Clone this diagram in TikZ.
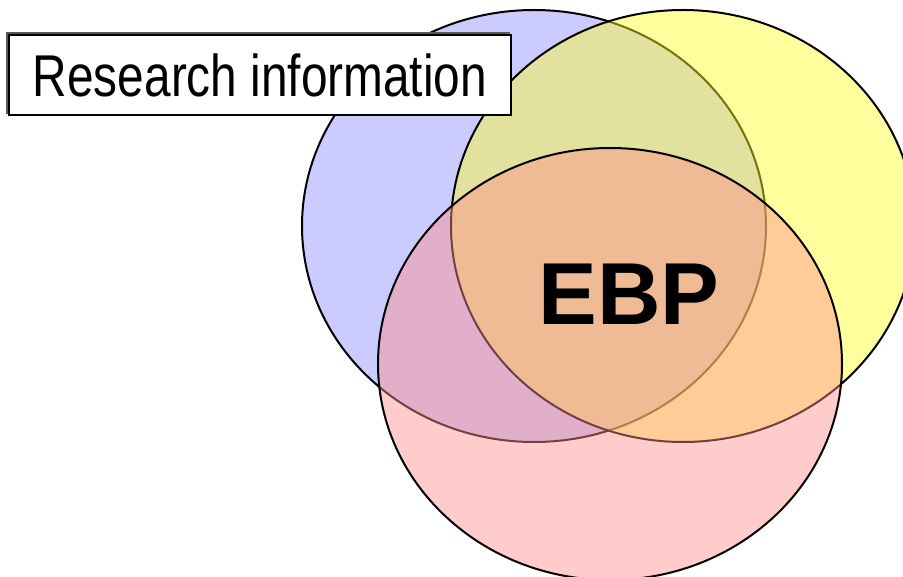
\documentclass[tikz,border=0pt]{standalone}
\usepackage{fontspec}
\setmainfont{Liberation Sans}
\usepackage{tikz}
\usetikzlibrary{calc,positioning,shapes.geometric}

\definecolor{setblue}{RGB}{140,140,255}
\definecolor{setyellow}{RGB}{255,255,40}
\definecolor{setred}{RGB}{255,140,140}

\begin{document}
\begin{tikzpicture}[x=1pt,y=-1pt,
    venn/.style={draw=black,line width=2pt,fill opacity=0.45,ellipse,minimum width=464pt,minimum height=432pt,inner sep=0pt},
    infobox/.style={draw=black,line width=1.8pt,fill=white,minimum width=502pt,minimum height=80pt,inner sep=0pt}]
              \useasboundingbox (0,0) rectangle (903,577);
              % the three sets
              \node[venn,fill=setblue] (blue) at (534,226) {};
              \node[venn,fill=setyellow] (yellow) at (683,226) {};
              \node[venn,fill=setred] (red) at (610,364) {};

              \node[font=\bfseries\fontsize{88}{88}\selectfont] (ebp) at (629,294) {EBP};

              % label box with its shadow
              \node[draw=black!65,line width=1.8pt,minimum width=502pt,minimum height=80pt] (shadow) at (258,73) {};
              \node[infobox] (info) at (260,75) {\fontsize{59}{59}\selectfont\scalebox{0.81}[1]{Research information}};
            \end{tikzpicture}
\end{document}
